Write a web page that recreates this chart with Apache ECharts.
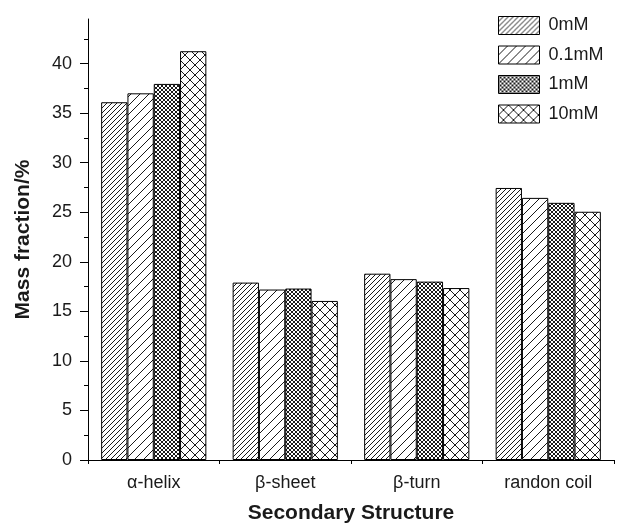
<!DOCTYPE html>
<html><head><meta charset="utf-8">
<script src="https://cdn.jsdelivr.net/npm/echarts@6/dist/echarts.min.js"></script>
<style>html,body{margin:0;padding:0;background:#fff}#c{width:624px;height:526px}</style>
</head><body><div id="c"></div>
<script>
const categories = ['\u03b1-helix', '\u03b2-sheet', '\u03b2-turn', 'randon coil'];
const seriesNames = ['0mM', '0.1mM', '1mM', '10mM'];
const v0mM   = [36.1, 17.9, 18.8, 27.45];
const v01mM  = [37.0, 17.2, 18.25, 26.45];
const v1mM   = [37.95, 17.3, 18.0, 25.95];
const v10mM  = [41.25, 16.05, 17.35, 25.05];
const yTicks = [0, 5, 10, 15, 20, 25, 30, 35, 40];

function makePattern(s, fwd, back, lw) {
  const c = document.createElement('canvas');
  c.width = s; c.height = s;
  const g = c.getContext('2d');
  g.fillStyle = '#fff'; g.fillRect(0, 0, s, s);
  g.strokeStyle = '#1a1a1a'; g.lineWidth = lw;
  for (let k = -1; k <= 1; k++) {
    if (fwd) { g.beginPath(); g.moveTo(k * s, s); g.lineTo(k * s + s, 0); g.stroke(); }
    if (back) { g.beginPath(); g.moveTo(k * s, 0); g.lineTo(k * s + s, s); g.stroke(); }
  }
  return { image: c, repeat: 'repeat' };
}
const patterns = [
  makePattern(5, true, false, 1),
  makePattern(9, true, false, 1),
  makePattern(4, true, true, 1),
  makePattern(10, true, true, 1)
];
const values = [v0mM, v01mM, v1mM, v10mM];
const font = "'Liberation Sans', Arial, Helvetica, sans-serif";

const chart = echarts.init(document.getElementById('c'), null, { renderer: 'canvas' });
chart.setOption({
  animation: false,
  backgroundColor: '#fff',
  grid: { left: 88, right: 10, top: 19, bottom: 66, containLabel: false, outerBoundsMode: 'none' },
  legend: {
    orient: 'vertical', left: 498, top: 16, padding: 0,
    itemWidth: 41, itemHeight: 18, itemGap: 10.5,
    icon: 'rect',
    itemStyle: { borderColor: '#000', borderWidth: 1 },
    textStyle: { fontFamily: font, fontSize: 18, color: '#1a1a1a', padding: [0, 0, 0, 4] },
    data: seriesNames
  },
  xAxis: [{
    type: 'category', data: categories, position: 'bottom',
    axisLine: { lineStyle: { color: '#000', width: 1 } },
    axisTick: { alignWithLabel: true, length: 8, lineStyle: { color: '#000' } },
    axisLabel: { fontFamily: font, fontSize: 18, color: '#1a1a1a', margin: 14 },
    name: 'Secondary Structure', nameLocation: 'middle', nameGap: 43,
    nameTextStyle: { fontFamily: font, fontSize: 21, fontWeight: 'bold', color: '#1a1a1a' }
  }, {
    type: 'category', data: categories, position: 'bottom',
    axisLine: { show: false },
    axisTick: { show: true, length: 4, lineStyle: { color: '#000' } },
    axisLabel: { show: false }
  }],
  yAxis: {
    type: 'value', min: 0, max: 44.5, interval: 5,
    axisLine: { show: true, lineStyle: { color: '#000', width: 1 } },
    axisTick: { show: true, length: 8, customValues: yTicks, lineStyle: { color: '#000' } },
    minorTick: { show: true, splitNumber: 2, length: 4, lineStyle: { color: '#000' } },
    splitLine: { show: false },
    axisLabel: {
      customValues: yTicks,
      fontFamily: font, fontSize: 18, color: '#1a1a1a', margin: 16,
      formatter: v => (v % 5 === 0 ? String(v) : '')
    },
    name: 'Mass fraction/%', nameLocation: 'middle', nameGap: 54, nameRotate: 90,
    nameTextStyle: { fontFamily: font, fontSize: 21, fontWeight: 'bold', color: '#1a1a1a' }
  },
  series: seriesNames.map((n, i) => ({
    name: n, type: 'bar', xAxisIndex: 0,
    data: values[i],
    barGap: '0%', barCategoryGap: '20%',
    itemStyle: { color: patterns[i], borderColor: '#000', borderWidth: 1 },
    emphasis: { disabled: true }
  }))
});
</script></body></html>
